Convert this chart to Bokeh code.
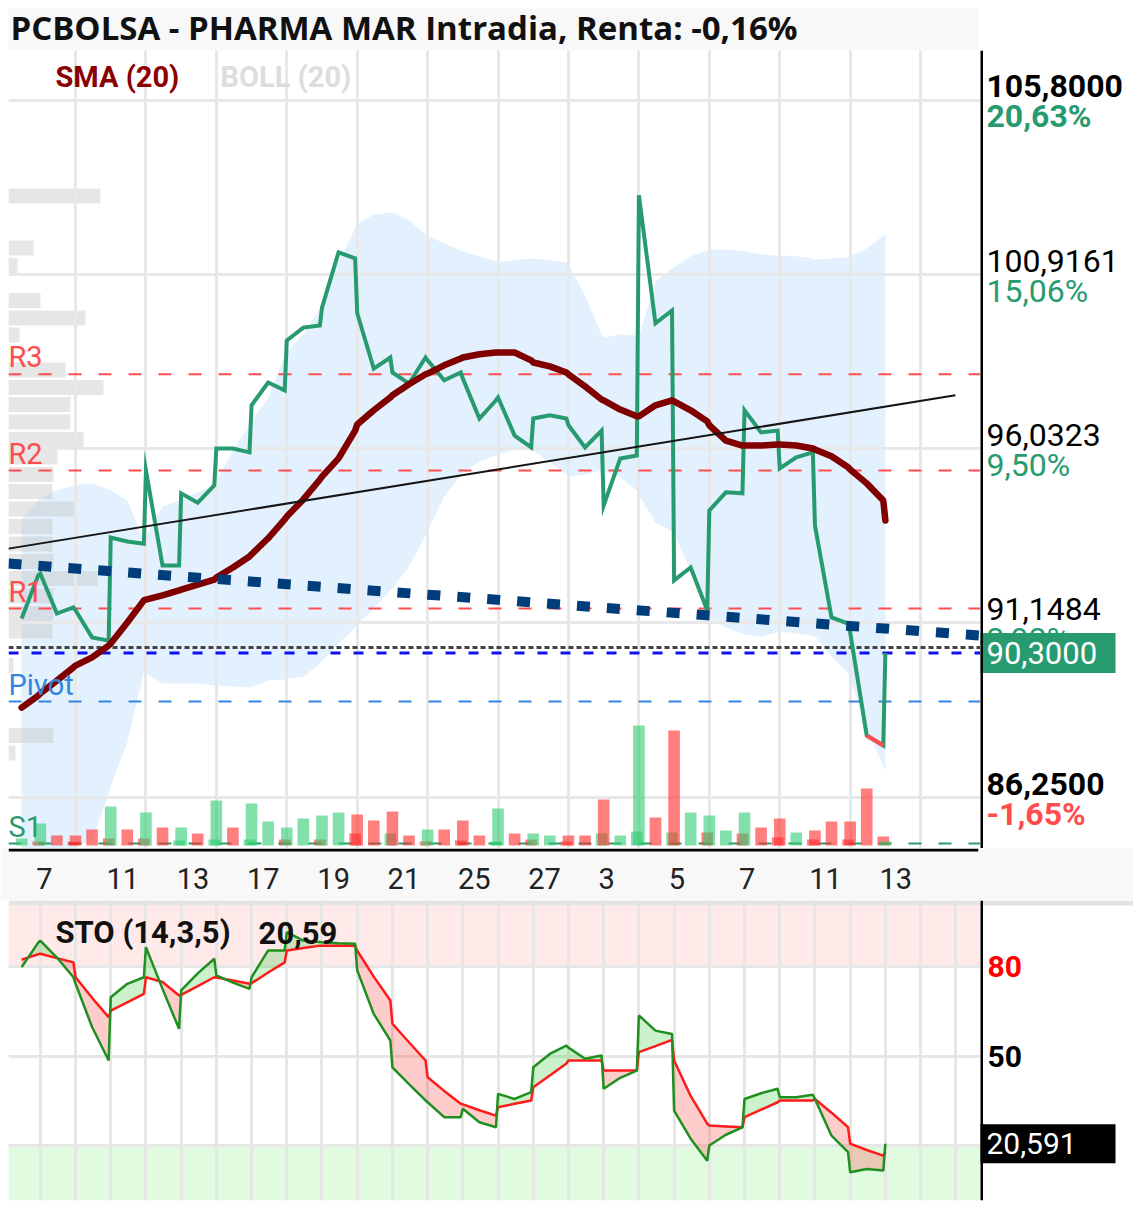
from bokeh.plotting import figure
from bokeh.layouts import column, row
from bokeh.models import Range1d, FixedTicker, ColumnDataSource, Span, BoxAnnotation, Label
from bokeh.core.properties import value
from bokeh.embed import file_html
from bokeh.resources import INLINE

# ---------------------------------------------------------------- data
TITLE = "PCBOLSA - PHARMA MAR Intradia, Renta: -0,16%"

day_labels = ["7", "11", "13", "17", "19", "21", "25", "27", "3", "5", "7", "11", "13"]
label_days = [1, 3, 5, 7, 9, 11, 13, 15, 17, 19, 21, 23, 25]
N_DAYS = 26
BAR_HOURS = [9.0, 13.0, 17.0]
SESSION_OPEN = 9.0
SESSION_LEN = 8.5

close = [91.27, 92.48, 92.53, 91.41, 91.58, 91.50, 90.74, 90.65, 93.54, 93.43,
         93.37, 95.42, 92.76, 92.76, 94.78, 94.52, 95.00, 96.04, 96.04, 95.93,
         97.25, 97.89, 97.67, 99.07, 99.43, 99.49, 99.99, 101.54, 101.37, 99.83,
         98.28, 98.59, 98.17, 97.86, 98.59, 98.51, 97.95, 98.17, 98.00, 96.88,
         97.39, 97.47, 96.40, 96.07, 96.88, 96.97, 96.88, 96.69, 96.07, 96.54,
         94.44, 95.76, 95.84, 103.14, 99.55, 99.91, 92.34, 92.70, 91.50, 94.30,
         94.81, 94.78, 97.11, 96.49, 96.54, 95.48, 95.79, 95.93, 93.88, 91.30,
         91.13, 90.88, 87.99, 87.71, 90.30]

sma20 = [88.77, 89.11, 89.17, 89.53, 89.90, 89.95, 90.18, 90.51, 90.57, 91.16,
         91.78, 91.80, 91.92, 92.06, 92.08, 92.22, 92.36, 92.42, 92.70, 93.01,
         93.07, 93.52, 94.05, 94.13, 94.61, 95.17, 95.25, 95.76, 96.54, 96.71,
         97.11, 97.47, 97.53, 97.84, 98.12, 98.14, 98.37, 98.56, 98.59, 98.68,
         98.73, 98.73, 98.73, 98.51, 98.45, 98.34, 98.17, 98.12, 97.78, 97.41,
         97.39, 97.13, 96.94, 96.94, 97.25, 97.39, 97.36, 97.11, 96.80, 96.69,
         96.26, 96.12, 96.12, 96.12, 96.15, 96.15, 96.12, 96.04, 96.01, 95.82,
         95.51, 95.45, 95.06, 94.58, 94.02]

boll_up = [94.08, 94.58, 94.64, 94.86, 95.00, 95.03, 95.06, 94.89, 94.86, 94.58,
           93.46, 93.60, 94.41, 94.58, 94.61, 94.81, 95.03, 95.14, 95.98, 96.69,
           96.83, 97.44, 98.65, 98.73, 99.24, 99.97, 100.11, 101.26, 102.21, 102.32,
           102.60, 102.66, 102.66, 102.44, 102.04, 102.01, 101.79, 101.59, 101.57, 101.43,
           101.29, 101.26, 101.31, 101.37, 101.37, 101.31, 101.26, 101.20, 100.33, 99.24,
           99.15, 99.24, 99.21, 99.18, 100.72, 101.09, 101.12, 101.43, 101.59, 101.62,
           101.62, 101.57, 101.57, 101.48, 101.45, 101.45, 101.43, 101.37, 101.34, 101.37,
           101.40, 101.43, 101.65, 102.01, 102.01]

boll_lo = [83.47, 83.64, 83.70, 84.20, 84.79, 84.88, 85.04, 86.36, 86.56, 87.79,
           89.76, 89.73, 89.45, 89.45, 89.45, 89.45, 89.39, 89.39, 89.36, 89.34,
           89.34, 89.53, 89.56, 89.59, 89.64, 90.01, 90.07, 90.57, 91.02, 91.10,
           91.55, 92.06, 92.11, 92.73, 93.60, 93.74, 94.69, 95.28, 95.34, 95.68,
           95.84, 95.87, 96.01, 96.01, 95.98, 95.65, 95.31, 95.25, 95.31, 95.42,
           95.39, 95.23, 94.86, 94.72, 93.96, 93.71, 93.66, 92.62, 91.44, 91.27,
           91.02, 90.85, 90.82, 90.77, 90.88, 90.91, 90.85, 90.79, 90.77, 90.21,
           89.73, 89.59, 88.13, 87.15, 87.01]

volume_k = [7, 4, 22, 10, 4, 10, 16, 7, 39, 16,
            7, 33, 18, 5, 18, 12, 6, 45, 18, 6,
            42, 24, 6, 18, 27, 6, 30, 33, 12, 31,
            25, 12, 34, 10, 4, 16, 16, 5, 25, 10,
            4, 37, 12, 6, 12, 10, 4, 10, 10, 12,
            46, 10, 14, 120, 28, 13, 115, 33, 13, 30,
            15, 12, 33, 18, 8, 27, 13, 6, 15, 24,
            6, 24, 57, 9, 4]
vol_up = [1, 0, 1, 0, 0, 0, 0, 0, 1, 0,
          0, 1, 0, 1, 1, 0, 1, 1, 0, 1,
          1, 1, 0, 1, 1, 0, 1, 1, 0, 0,
          0, 1, 0, 0, 0, 1, 0, 0, 0, 0,
          1, 1, 0, 0, 1, 1, 0, 0, 0, 1,
          0, 1, 1, 1, 0, 1, 0, 1, 0, 1,
          1, 0, 1, 0, 0, 0, 1, 0, 0, 0,
          0, 0, 0, 0, 1]

sto_k = [79.8, 88.0, 88.7, 83.0, 76.4, 74.3, 59.7, 48.5, 69.7, 74.2,
         76.4, 86.5, 72.5, 59.1, 72.0, 77.7, 82.6, 77.0, 74.6, 72.5,
         76.4, 85.4, 85.4, 91.5, 88.7, 88.2, 88.1, 87.8, 87.6, 78.7,
         64.1, 55.2, 46.2, 40.6, 35.1, 34.5, 29.5, 29.5, 32.3, 27.8,
         26.1, 37.3, 35.6, 37.9, 46.2, 50.7, 53.5, 52.8, 49.1, 50.2,
         39.0, 42.7, 45.1, 63.6, 58.5, 57.4, 31.7, 22.3, 14.9, 20.0,
         23.6, 26.1, 35.6, 37.5, 39.0, 36.2, 36.2, 37.0, 35.6, 23.3,
         17.8, 11.0, 12.1, 11.6, 20.591]
sto_d = [82.3, 84.1, 84.3, 82.8, 81.4, 76.4, 69.5, 63.0, 65.2, 68.0,
         70.8, 76.4, 74.8, 70.3, 70.5, 73.4, 76.4, 76.3, 75.3, 74.2,
         74.4, 78.0, 81.4, 85.4, 86.2, 87.0, 87.0, 87.0, 87.0, 85.3,
         76.6, 68.6, 60.8, 54.6, 48.5, 42.9, 38.3, 34.0, 33.8, 31.8,
         30.0, 32.8, 34.0, 35.1, 39.5, 43.5, 47.5, 48.5, 48.5, 48.5,
         45.1, 45.1, 45.1, 51.3, 53.3, 55.4, 48.5, 36.6, 27.3, 26.7,
         26.4, 26.1, 29.5, 32.0, 34.5, 35.1, 35.1, 35.1, 35.6, 31.0,
         26.1, 20.6, 18.5, 16.6, 17.8]

red_segments = [72]

price_ticks = [105.8, 100.9161, 96.0323, 91.1484, 86.25]
price_pcts = ["20,63%", "15,06%", "9,50%", "3,93%", "-1,65%"]

pivot_names = ["R3", "R2", "R1", "Pivot", "S1"]
pivot_levels = [98.12, 95.42, 91.55, 88.94, 84.96]
prev_level = 90.46

trend_black_x = [0.0966, 26.99]
trend_black_y = [93.23, 97.53]
trend_navy_x = [0.0966, 27.702]
trend_navy_y = [92.81, 90.79]

profile_price = [103.12, 101.66, 101.17, 100.19, 99.70, 99.22, 98.24, 97.75, 97.27,
                 96.78, 96.29, 95.80, 95.31, 94.83, 94.34, 93.85, 93.36, 92.87,
                 92.39, 91.90, 91.41, 90.92, 89.95, 87.99, 87.50]
profile_vol_k = [92, 25, 9, 32, 77, 11, 57, 95, 62, 62, 75, 49, 45, 44, 67, 44, 44,
                 45, 89, 45, 45, 44, 5, 45, 7]

# ---------------------------------------------------------------- helpers
pts = [(d, h) for d in range(N_DAYS) for h in BAR_HOURS][1:-2]
xs = [d + (h - SESSION_OPEN) / SESSION_LEN for d, h in pts]

FONT = value("Roboto")
GREEN = "#279b6f"
RED_TXT = "#ff4c4c"
X0, X1 = 0.0966, 27.702


def fmt(v, nd):
    return f"{v:.{nd}f}".replace(".", ",")


def mk(**kw):
    base = dict(output_backend="svg", toolbar_location=None,
                min_border_left=0, min_border_right=0,
                min_border_top=0, min_border_bottom=0)
    base.update(kw)
    fig = figure(**base)
    fig.outline_line_color = None
    fig.xaxis.visible = False
    fig.yaxis.visible = False
    fig.title.visible = False
    return fig


# ---------------------------------------------------------------- title strip
t = mk(width=1133, height=50, x_range=Range1d(0, 1), y_range=Range1d(0, 1),
       min_border_left=8, min_border_right=155, min_border_top=8,
       background_fill_color="#f8f8f8")
t.grid.visible = False
t.add_layout(Label(x=0.002, y=0.55, text=TITLE, text_font="Open Sans",
                   text_font_style="bold", text_font_size="33px",
                   text_color="#111111", text_baseline="middle"))

# ---------------------------------------------------------------- main chart
main_x = Range1d(X0, X1)
main_y = Range1d(84.82, 107.20)
p = mk(width=980, height=798, x_range=main_x, y_range=main_y, min_border_left=8)
p.extra_y_ranges = {"vol": Range1d(-3, 795)}
p.extra_x_ranges = {"prof": Range1d(0, 972)}
p.xgrid.ticker = FixedTicker(ticks=list(range(2, 27, 2)))
p.ygrid.ticker = FixedTicker(ticks=price_ticks)
p.grid.grid_line_color = "#e8e8e8"
p.grid.grid_line_width = 3

src = ColumnDataSource(dict(
    x=xs, close=close, sma=sma20, up=boll_up, lo=boll_lo, vol=volume_k,
    vcol=["#2ecc71" if u else "#ff2a2a" for u in vol_up]))

p.varea(x="x", y1="lo", y2="up", source=src, fill_color="#bbdefb",
        fill_alpha=0.42, level="underlay")
p.hbar(y=profile_price, left=0, right=profile_vol_k, height=0.42,
       x_range_name="prof", fill_color="#c8c8c8", fill_alpha=0.45,
       line_color=None, level="underlay")

piv_colors = ["#ff4d4d", "#ff4d4d", "#ff4d4d", "#3385e0", "#2a9a6e"]
for lvl, col in zip(pivot_levels, piv_colors):
    p.add_layout(Span(location=lvl, dimension="width", line_color=col,
                      line_width=2, line_dash="13 17", level="underlay"))
p.add_layout(Span(location=prev_level, dimension="width", line_color="#444444",
                  line_width=3, line_dash="5 3", level="underlay"))
p.add_layout(Span(location=close[-1], dimension="width", line_color="#1010ee",
                  line_width=3, line_dash="10 13", level="underlay"))

p.vbar(x="x", top="vol", bottom=0, width=0.33, source=src, y_range_name="vol",
       fill_color="vcol", fill_alpha=0.6, line_color=None)

p.line("x", "close", source=src, line_color=GREEN, line_width=4, line_join="miter")
for i in red_segments:
    p.line(xs[i:i + 2], close[i:i + 2], line_color="#ff4d4d", line_width=4)
p.line("x", "sma", source=src, line_color="#800000", line_width=6.5,
       line_join="round", line_cap="round")
p.line(trend_black_x, trend_black_y, line_color="#151515", line_width=2)
p.line(trend_navy_x, trend_navy_y, line_color="#003d7a", line_width=10,
       line_dash="13 17")

p.text(x=[1.43], y=[106.45], text=["SMA (20)"], text_color="#8b0000",
       text_font=FONT, text_font_size="29px", text_font_style="bold",
       text_baseline="middle")
p.text(x=[6.12], y=[106.45], text=["BOLL (20)"], text_color="#dddddd",
       text_font=FONT, text_font_size="29px", text_font_style="bold",
       text_baseline="middle")
p.text(x=[X0] * len(pivot_levels), y=pivot_levels, text=pivot_names,
       text_color=piv_colors, text_font=FONT, text_font_size="29px",
       text_baseline="middle", y_offset=-17)

# ---------------------------------------------------------------- right price labels
r = mk(width=153, height=798, x_range=Range1d(0, 153), y_range=main_y)
r.grid.visible = False
r.add_layout(Span(location=1, dimension="height", line_color="black", line_width=3))
bold_idx = [0, 4]
reg_idx = [1, 2, 3]
for idx, style in ((bold_idx, "bold"), (reg_idx, "normal")):
    r.text(x=[6] * len(idx), y=[price_ticks[i] for i in idx],
           text=[fmt(price_ticks[i], 4) for i in idx], text_color="#000000",
           text_font=FONT, text_font_size="32px", text_font_style=style,
           text_baseline="middle", y_offset=-14)
    r.text(x=[6] * len(idx), y=[price_ticks[i] for i in idx],
           text=[price_pcts[i] for i in idx],
           text_color=[RED_TXT if price_pcts[i].startswith("-") else GREEN for i in idx],
           text_font=FONT, text_font_size="32px", text_font_style=style,
           text_baseline="middle", y_offset=16)
r.rect(x=[66.5], y=[close[-1]], width=[137], height=[40], height_units="screen",
       fill_color=GREEN, line_color=None)
r.text(x=[6], y=[close[-1]], text=[fmt(close[-1], 4)], text_color="white",
       text_font=FONT, text_font_size="31px", text_baseline="middle")

# ---------------------------------------------------------------- date strip
a = mk(width=1133, height=52, x_range=main_x, y_range=Range1d(0, 1),
       min_border_left=8, min_border_right=153,
       background_fill_color="#f8f8f8", border_fill_color="#f8f8f8")
a.grid.visible = False
a.text(x=label_days, y=[0.42] * len(label_days), text=day_labels, x_offset=-4,
       text_align="left", text_baseline="middle", text_font=FONT,
       text_font_size="29px", text_color="#222222")
a.segment(x0=[X0], y0=[0.97], x1=[X1], y1=[0.97], line_color="black", line_width=3)

# ---------------------------------------------------------------- stochastic
sto_y = Range1d(1.56, 102.13)
s = mk(width=980, height=308, x_range=main_x, y_range=sto_y,
       min_border_left=8, min_border_bottom=8)
s.add_layout(BoxAnnotation(bottom=80, top=100.45, fill_color="#ffe9e9", fill_alpha=1,
                           line_color=None, level="image"))
s.add_layout(BoxAnnotation(top=20, fill_color="#e0fbe0", fill_alpha=1,
                           line_color=None, level="image"))
s.xgrid.ticker = FixedTicker(ticks=list(range(1, 28)))
s.ygrid.ticker = FixedTicker(ticks=[20, 50, 80])
s.grid.grid_line_color = "#e6e6e6"
s.grid.grid_line_width = 3
s.add_layout(BoxAnnotation(bottom=100.45, fill_color="#e4e4e4", fill_alpha=1,
                           line_color=None, level="underlay"))

fx, fk, fd = [], [], []
for i in range(len(xs)):
    if i > 0:
        d0 = sto_k[i - 1] - sto_d[i - 1]
        d1 = sto_k[i] - sto_d[i]
        if d0 * d1 < 0:
            tt = d0 / (d0 - d1)
            xc = xs[i - 1] + tt * (xs[i] - xs[i - 1])
            yc = sto_d[i - 1] + tt * (sto_d[i] - sto_d[i - 1])
            fx.append(xc); fk.append(yc); fd.append(yc)
    fx.append(xs[i]); fk.append(sto_k[i]); fd.append(sto_d[i])
s.varea(x=fx, y1=fd, y2=[max(k, d) for k, d in zip(fk, fd)],
        fill_color="#33cc33", fill_alpha=0.25)
s.varea(x=fx, y1=[min(k, d) for k, d in zip(fk, fd)], y2=fd,
        fill_color="#ff3333", fill_alpha=0.25)
s.line(xs, sto_d, line_color="#ff1a1a", line_width=2.5)
s.line(xs, sto_k, line_color="#1f8f1f", line_width=2.5)

s.text(x=[1.43], y=[91.4], text=["STO (14,3,5)"], text_color="#111111",
       text_font=FONT, text_font_size="31px", text_font_style="bold",
       text_baseline="middle")
s.text(x=[7.2], y=[91.4], text=[fmt(sto_k[-1], 2)], text_color="#111111",
       text_font=FONT, text_font_size="31px", text_font_style="bold",
       text_baseline="middle")

sr = mk(width=153, height=308, x_range=Range1d(0, 153), y_range=sto_y,
        min_border_bottom=8)
sr.grid.visible = False
sr.add_layout(BoxAnnotation(bottom=100.45, fill_color="#e4e4e4", fill_alpha=1,
                            line_color=None, level="underlay"))
sr.add_layout(Span(location=1, dimension="height", line_color="black", line_width=3))
sr.text(x=[7, 7], y=[80, 50], text=["80", "50"], text_color=["#ff0000", "#000000"],
        text_font=FONT, text_font_size="30px", text_font_style="bold",
        text_baseline="middle")
sr.rect(x=[66.5], y=[sto_k[-1]], width=[137], height=[39], height_units="screen",
        fill_color="black", line_color=None)
sr.text(x=[6], y=[sto_k[-1]], text=[fmt(sto_k[-1], 3)], text_color="white",
        text_font=FONT, text_font_size="30px", text_baseline="middle")

layout = column(t, row(p, r), a, row(s, sr))

open("out.html", "w").write(file_html(layout, INLINE))
